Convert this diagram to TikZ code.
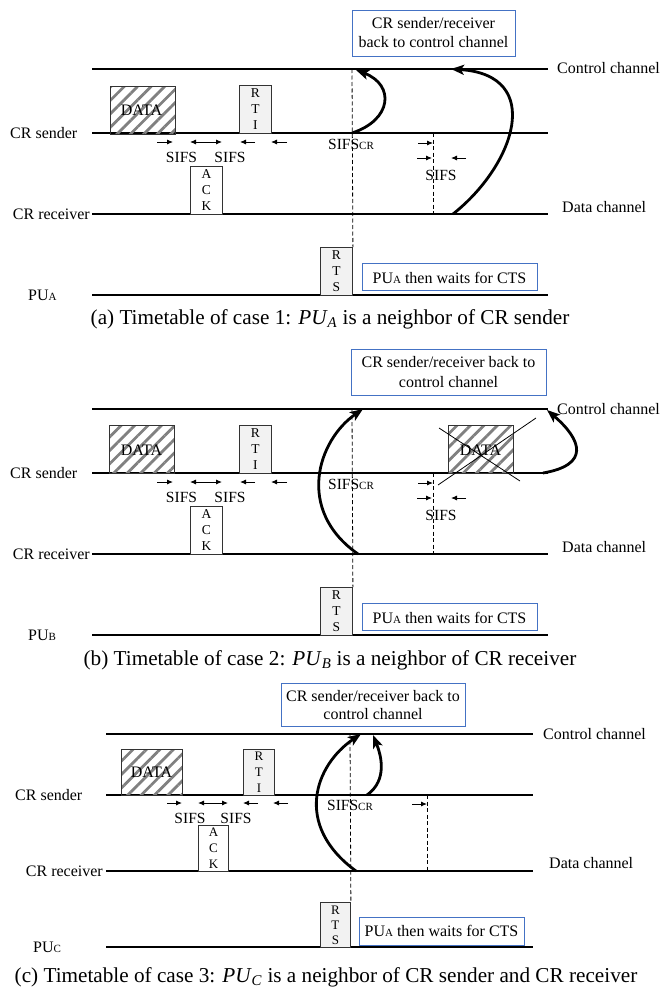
\documentclass[tikz,border=0pt]{standalone}
\usepackage{fontspec}
\setmainfont{Liberation Serif}
\usetikzlibrary{arrows.meta,patterns.meta}

\definecolor{boxblue}{RGB}{68,114,196}
\definecolor{pktgray}{RGB}{242,242,242}

% smaller trailing letter used in "PU_A" and "SIFS_CR" style labels
\newcommand\tail[1]{{\fontsize{11}{11}\selectfont #1}}

\tikzset{
  chan/.style={line width=1.3pt},
  lbl/.style={font=\fontsize{16}{19}\selectfont, inner sep=0pt, anchor=base},
  sifs/.style={font=\fontsize{15.5}{18}\selectfont, inner sep=0pt, anchor=base},
  pkt/.style={draw=black!80, line width=0.9pt, inner sep=0pt, anchor=north west,
              minimum width=32pt, minimum height=48pt, align=center,
              font=\fontsize{13.5}{16}\selectfont},
  hatched/.style={pkt, minimum width=65pt,
              pattern={Lines[angle=45,distance=9.5pt,line width=2.8pt]}, pattern color=black!50},
  ctlpkt/.style={pkt, fill=pktgray},
  ackpkt/.style={pkt, fill=white},
  note/.style={draw=boxblue, line width=1.2pt, fill=white, inner sep=0pt, align=center,
               font=\fontsize{16}{19}\selectfont},
  gap/.style={line width=0.9pt, -{Latex[length=6pt,width=5pt]}},
  gapboth/.style={line width=0.9pt, {Latex[length=6pt,width=5pt]}-{Latex[length=6pt,width=5pt]}},
  vline/.style={line width=0.8pt, dash pattern=on 4pt off 2.5pt},
  hop/.style={line width=2.8pt, -{Stealth[length=13pt,width=10pt,inset=3pt]}},
  cross/.style={line width=0.8pt},
  caption/.style={font=\fontsize{21.2}{25}\selectfont, inner sep=0pt, anchor=base},
}

% channels, frames and gaps shared by the first two timetables
\newcommand\commonpart[1]{%
  \coordinate (c0) at (92,69);  \coordinate (c1) at (548,69);
  \coordinate (s0) at (92,133); \coordinate (s1) at (548,133);
  \coordinate (r0) at (92,214); \coordinate (r1) at (548,214);
  \coordinate (p0) at (92,295); \coordinate (p1) at (548,295);
  \draw[chan] (c0) -- (c1);
  \draw[chan] (s0) -- (s1);
  \draw[chan] (r0) -- (r1);
  \draw[chan] (p0) -- (p1);
  \node[lbl, anchor=base west] (ctlname) at (557,74) {Control channel};
  \node[lbl, anchor=base west] (dataname) at (562,212) {Data channel};
  \node[lbl, anchor=base west] (sendname) at (10,138) {CR sender};
  \node[lbl, anchor=base east] (recvname) at (90,219.5) {CR receiver};
  \node[lbl, anchor=base west] (puname) at (28,300) {PU\tail{#1}};
  \node[hatched] (data) at (109,85) {};
  \node[lbl, anchor=base] (datatxt) at (141.5,115) {DATA};
  \node[ctlpkt] (rti) at (239,85) {R\\T\\I};
  \node[ackpkt] (ack) at (190,166) {A\\C\\K};
  \node[ctlpkt] (rts) at (320,247) {R\\T\\S};
  \coordinate (dtop) at (352,69);
  \draw[vline] (dtop) -- (rts.north east);
  \coordinate (g1a) at (157,142); \coordinate (g1b) at (173,142);
  \coordinate (g2a) at (190,142); \coordinate (g2b) at (222,142);
  \coordinate (g3a) at (255,142); \coordinate (g3b) at (240,142);
  \coordinate (g4a) at (287,142); \coordinate (g4b) at (271,142);
  \draw[gap] (g1a) -- (g1b);
  \draw[gapboth] (g2a) -- (g2b);
  \draw[gap] (g3a) -- (g3b);
  \draw[gap] (g4a) -- (g4b);
  \node[sifs] (sifs1) at (181.5,162) {SIFS};
  \node[sifs] (sifs2) at (230,162) {SIFS};
  \node[sifs, anchor=base west] (sifscr) at (328,149) {SIFS\tail{CR}};
  \coordinate (e0) at (433,133); \coordinate (e1) at (433,214);
  \draw[vline] (e0) -- (e1);
  \coordinate (h1a) at (418,143); \coordinate (h1b) at (433,143);
  \coordinate (h2a) at (417,158); \coordinate (h2b) at (432,158);
  \coordinate (h3a) at (466,158); \coordinate (h3b) at (451,158);
  \draw[gap] (h1a) -- (h1b);
  \draw[gap] (h2a) -- (h2b);
  \draw[gap] (h3a) -- (h3b);
  \node[sifs] (sifs3) at (441,180) {SIFS};
  \node[note, minimum width=175pt, minimum height=27pt, anchor=north west] (wait) at (362,263) {};
  \node[lbl] (waittxt) at (449.5,283) {PU\tail{A} then waits for CTS};
}

\begin{document}
\begin{tikzpicture}[x=1pt,y=-1pt]
\useasboundingbox (0,0) rectangle (660,990);

% ---------- case 1 ----------
\begin{scope}[name prefix=a-]
  \commonpart{A}
  \node[note, minimum width=163pt, minimum height=46pt, anchor=north west] (back) at (352,10) {};
  \node[lbl] (back1) at (433.5,29) {CR sender/receiver};
  \node[lbl] (back2) at (433.5,48) {back to control channel};
  \coordinate (k1s) at (352,133); \coordinate (k1e) at (356,70);
  \draw[hop] (k1s) .. controls (392,120) and (395,85) .. (k1e);
  \coordinate (k2s) at (453,214); \coordinate (k2e) at (451,69);
  \draw[hop] (k2s) .. controls (515,165) and (545,75) .. (k2e);
  \node[caption] (cap) at (330,324) {(a) Timetable of case 1: \textit{PU}\textsubscript{\textit{A}} is a neighbor of CR sender};
\end{scope}

% ---------- case 2 ----------
\begin{scope}[name prefix=b-, yshift=-340pt]
  \commonpart{B}
  \node[note, minimum width=195pt, minimum height=46pt, anchor=north west] (back) at (351,9) {};
  \node[lbl] (back1) at (448.5,27) {CR sender/receiver back to};
  \node[lbl] (back2) at (448.5,47) {control channel};
  \node[hatched] (lost) at (448,85) {};
  \node[lbl] (losttxt) at (480.5,115) {DATA};
  \coordinate (x1a) at (438,145); \coordinate (x1b) at (536,78);
  \coordinate (x2a) at (439,88);  \coordinate (x2b) at (520,141);
  \draw[cross] (x1a) -- (x1b);
  \draw[cross] (x2a) -- (x2b);
  \coordinate (k1s) at (358,214); \coordinate (k1e) at (363,69);
  \draw[hop] (k1s) .. controls (295,170) and (318,100) .. (k1e);
  \coordinate (k2s) at (543,133); \coordinate (k2e) at (547,70);
  \draw[hop] (k2s) .. controls (590,125) and (582,100) .. (k2e);
  \node[caption] (cap) at (330,325) {(b) Timetable of case 2: \textit{PU}\textsubscript{\textit{B}} is a neighbor of CR receiver};
\end{scope}

% ---------- case 3 ----------
\begin{scope}[name prefix=c-]
  \coordinate (c0) at (106,734); \coordinate (c1) at (533,734);
  \coordinate (s0) at (106,795); \coordinate (s1) at (533,795);
  \coordinate (r0) at (106,871); \coordinate (r1) at (533,871);
  \coordinate (p0) at (106,947); \coordinate (p1) at (533,947);
  \draw[chan] (c0) -- (c1);
  \draw[chan] (s0) -- (s1);
  \draw[chan] (r0) -- (r1);
  \draw[chan] (p0) -- (p1);
  \node[lbl, anchor=base west] (ctlname) at (543,739) {Control channel};
  \node[lbl, anchor=base west] (dataname) at (549,868) {Data channel};
  \node[lbl, anchor=base west] (sendname) at (15,800) {CR sender};
  \node[lbl, anchor=base east] (recvname) at (103,876) {CR receiver};
  \node[lbl, anchor=base west] (puname) at (33,952) {PU\tail{C}};
  \node[hatched, minimum width=61pt, minimum height=46pt] (data) at (121,749) {};
  \node[lbl] (datatxt) at (151.5,777) {DATA};
  \node[ctlpkt, minimum width=31pt, minimum height=46pt, font=\fontsize{13}{16}\selectfont] (rti) at (243,749) {R\\T\\I};
  \node[ackpkt, minimum width=30pt, minimum height=46pt, font=\fontsize{13}{16}\selectfont] (ack) at (198,825) {A\\C\\K};
  \node[ctlpkt, minimum width=30pt, minimum height=45pt, font=\fontsize{13}{15}\selectfont] (rts) at (320,902) {R\\T\\S};
  \coordinate (dtop) at (350,734);
  \draw[vline] (dtop) -- (rts.north east);
  \coordinate (g1a) at (167,803); \coordinate (g1b) at (182,803);
  \coordinate (g2a) at (198,803); \coordinate (g2b) at (228,803);
  \coordinate (g3a) at (258,803); \coordinate (g3b) at (243,803);
  \coordinate (g4a) at (288,803); \coordinate (g4b) at (273,803);
  \draw[gap] (g1a) -- (g1b);
  \draw[gapboth] (g2a) -- (g2b);
  \draw[gap] (g3a) -- (g3b);
  \draw[gap] (g4a) -- (g4b);
  \node[sifs] (sifs1) at (190,823) {SIFS};
  \node[sifs] (sifs2) at (236,823) {SIFS};
  \node[sifs, anchor=base west] (sifscr) at (327,810) {SIFS\tail{CR}};
  \coordinate (e0) at (427,795); \coordinate (e1) at (427,871);
  \draw[vline] (e0) -- (e1);
  \coordinate (h1a) at (412,804); \coordinate (h1b) at (427,804);
  \draw[gap] (h1a) -- (h1b);
  \node[note, minimum width=165pt, minimum height=28pt, anchor=north west] (wait) at (359,917) {};
  \node[lbl] (waittxt) at (441.5,936) {PU\tail{A} then waits for CTS};
  \node[note, minimum width=184pt, minimum height=43pt, anchor=north west] (back) at (281,683) {};
  \node[lbl] (back1) at (373,701) {CR sender/receiver back to};
  \node[lbl] (back2) at (373,719) {control channel};
  \coordinate (k1s) at (356,871); \coordinate (k1e) at (361,734);
  \draw[hop] (k1s) .. controls (293,825) and (315,765) .. (k1e);
  \coordinate (k2s) at (367,795); \coordinate (k2e) at (373,735);
  \draw[hop] (k2s) .. controls (388,780) and (381,755) .. (k2e);
  \node[caption] (cap) at (326,982) {(c) Timetable of case 3: \textit{PU}\textsubscript{\textit{C}} is a neighbor of CR sender and CR receiver};
\end{scope}
\end{tikzpicture}
\end{document}
